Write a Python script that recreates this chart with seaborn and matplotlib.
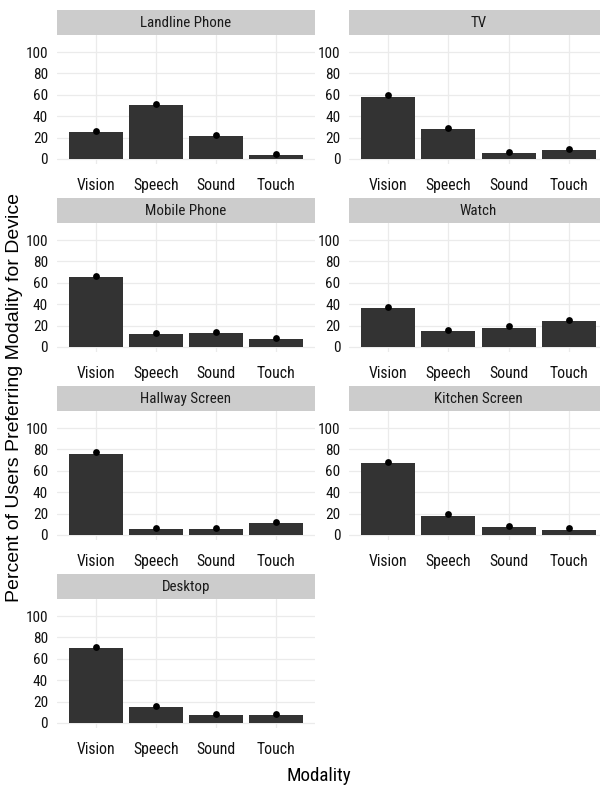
import matplotlib
matplotlib.use("Agg")
import matplotlib.pyplot as plt
from matplotlib import font_manager
import seaborn as sns
import pandas as pd

# values (percent of users)
devices = ["Landline Phone", "TV", "Mobile Phone", "Watch",
           "Hallway Screen", "Kitchen Screen", "Desktop"]
modalities = ["Vision", "Speech", "Sound", "Touch"]
bar_vals = {
    "Landline Phone": [25.0, 50.0, 21.5, 3.7],
    "TV": [58.2, 27.7, 5.6, 8.4],
    "Mobile Phone": [65.6, 11.9, 13.1, 7.2],
    "Watch": [36.6, 14.6, 18.0, 24.0],
    "Hallway Screen": [76.0, 5.3, 5.3, 11.3],
    "Kitchen Screen": [67.0, 18.2, 7.6, 5.0],
    "Desktop": [69.9, 14.6, 7.1, 7.1],
}
point_vals = {
    "Landline Phone": [26.3, 51.2, 22.7, 4.8],
    "TV": [59.5, 28.9, 6.8, 9.6],
    "Mobile Phone": [66.8, 13.1, 14.3, 8.4],
    "Watch": [37.8, 15.8, 19.2, 25.2],
    "Hallway Screen": [77.2, 6.5, 6.5, 12.5],
    "Kitchen Screen": [68.2, 19.4, 8.8, 6.2],
    "Desktop": [71.1, 15.8, 8.3, 8.3],
}
y_ticks = [0, 20, 40, 60, 80, 100]

sns.set_style("white")

# look for a narrow sans face, the reference text is condensed
narrow_font = None
for pref in ["Liberation Sans Narrow", "Arial Narrow", "Roboto Condensed",
             "Noto Sans", "Open Sans", "Roboto", "Liberation Sans"]:
    for f in font_manager.fontManager.ttflist:
        st = str(f.stretch).lower()
        is_narrow = ("narrow" in f.name.lower() or "condensed" in f.name.lower()
                     or st in ("condensed", "semi-condensed", "75", "87.5", "extra-condensed"))
        if f.name.startswith(pref) and is_narrow and f.style == "normal" \
                and str(f.weight) in ("400", "normal", "regular", "book"):
            narrow_font = f
            break
    if narrow_font is not None:
        break

if narrow_font is not None:
    plt.rcParams["font.family"] = [narrow_font.name, "DejaVu Sans"]
    plt.rcParams["font.stretch"] = narrow_font.stretch
    k = 1.0
else:
    plt.rcParams["font.family"] = ["Liberation Sans", "DejaVu Sans"]
    k = 0.88

W, H = 600, 787
fig = plt.figure(figsize=(W / 100, H / 100), dpi=100)


def box(x0, y0, x1, y1):
    # pixel box (top-left origin) -> figure fraction rect
    return [x0 / W, 1 - y1 / H, (x1 - x0) / W, (y1 - y0) / H]


cols = [(57, 315), (349.3, 607.7)]
for i, dev in enumerate(devices):
    r, c = divmod(i, 2)
    x0, x1 = cols[c]
    top = 10 + 188 * r
    # strip
    sax = fig.add_axes(box(x0, top, x1, top + 25))
    sax.set_facecolor("#CCCCCC")
    sax.set_xticks([])
    sax.set_yticks([])
    for s in sax.spines.values():
        s.set_visible(False)
    sax.text(0.5, 0.48, dev, ha="center", va="center", fontsize=10.8 * k,
             color="#1A1A1A", transform=sax.transAxes)
    # panel
    ax = fig.add_axes(box(x0, top + 25, x1, top + 154))
    df = pd.DataFrame({"Modality": modalities, "Percent": bar_vals[dev]})
    sns.barplot(data=df, x="Modality", y="Percent", order=modalities,
                color="#333333", saturation=1, width=0.9, ax=ax,
                edgecolor="none", zorder=2)
    ax.scatter(range(len(modalities)), point_vals[dev], s=24, color="black",
               zorder=3, linewidths=0)
    ax.set_xlim(-0.65, 3.65)
    ax.set_ylim(-4.7, 115.9)
    ax.set_yticks(y_ticks)
    ax.grid(True, color="#EBEBEB", linewidth=0.9, zorder=0)
    ax.set_axisbelow(True)
    for s in ax.spines.values():
        s.set_visible(False)
    ax.tick_params(axis="both", length=0, colors="#111111")
    ax.tick_params(axis="y", pad=6.5, labelsize=11 * k)
    ax.tick_params(axis="x", pad=10, labelsize=11.3 * k)
    ax.set_xlabel("")
    ax.set_ylabel("")

fig.text(319 / W, 1 - 776 / H, "Modality", ha="center", va="center",
         fontsize=13.7 * k, color="black")
fig.text(15 / W, 1 - 398 / H, "Percent of Users Preferring Modality for Device",
         ha="center", va="center", rotation=90, fontsize=14,
         family=["Liberation Sans", "DejaVu Sans"], stretch="normal", color="black")

fig.savefig("out.png", dpi=100)
